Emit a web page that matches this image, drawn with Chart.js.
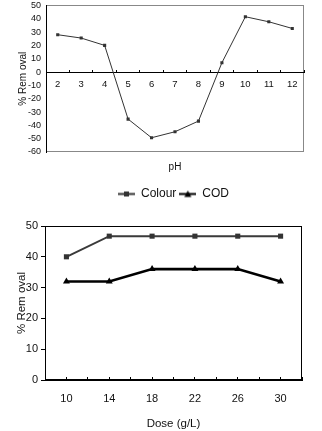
<!DOCTYPE html>
<html><head><meta charset="utf-8">
<script src="https://cdn.jsdelivr.net/npm/chart.js@4"></script>
<style>
html,body{margin:0;padding:0;background:#fff;}
#wrap{position:relative;width:322px;height:431px;overflow:hidden;background:#fff;}
canvas{position:absolute;left:0;}
</style></head><body>
<div id="wrap">
<canvas id="c1" width="322" height="175" style="top:0"></canvas>
<canvas id="c2" width="322" height="256" style="top:175px"></canvas>
</div>
<script>
// ---- data ----
const phLabels = ['2','3','4','5','6','7','8','9','10','11','12'];
const phRemoval = [28, 25.5, 20, -35.3, -49.3, -44.8, -36.8, 7, 41.5, 37.7, 32.7];
const doseValues = [10, 14, 18, 22, 26, 30];
const colourRemoval = [40, 46.7, 46.7, 46.7, 46.7, 46.7];
const codRemoval = [32, 32, 36, 36, 36, 32];
const seriesNames = ['Colour', 'COD'];
const phAxisTitle = 'pH';
const doseAxisTitle = 'Dose (g/L)';
const removalTitle = '% Rem oval';

const sans = "'Liberation Sans', Arial, sans-serif";
const narrow = "'Liberation Sans Narrow', 'Arial Narrow', 'Liberation Sans', sans-serif";
const nf = (size) => ({family: narrow, size: size});

const plotBorder = {
  id: 'plotBorder',
  beforeDraw(chart, args, opts) {
    const {ctx, chartArea: a} = chart;
    ctx.save();
    ctx.strokeStyle = opts.color || '#000';
    ctx.lineWidth = 1;
    const l = Math.round(a.left) + 0.5, t = Math.round(a.top) + 0.5;
    const r = Math.round(a.right) - 0.5, b = Math.round(a.bottom) - 0.5;
    ctx.strokeRect(l, t, r - l, b - t);
    ctx.restore();
  }
};

// ---- top chart (pH) ----
new Chart(document.getElementById('c1'), {
  type: 'line',
  data: {
    labels: phLabels,
    datasets: [{
      data: phRemoval,
      borderColor: '#333',
      borderWidth: 1,
      pointStyle: 'rect',
      pointRadius: 2.2,
      pointBackgroundColor: '#333',
      pointBorderWidth: 0,
      tension: 0
    }]
  },
  plugins: [plotBorder],
  options: {
    responsive: false, animation: false, devicePixelRatio: 1,
    layout: {padding: {left: 0, right: 18, top: 0, bottom: 0}},
    plugins: {legend: {display: false}, tooltip: {enabled: false}, plotBorder: {color: '#888'}},
    scales: {
      x: {
        type: 'category', position: {y: 0}, offset: true,
        grid: {drawOnChartArea: false, offset: true, tickLength: -3, color: '#000'},
        border: {color: '#000', width: 1},
        ticks: {padding: 10, font: {family: sans, size: 9.5}, color: '#111', maxRotation: 0, autoSkip: false}
      },
      xt: {
        type: 'category', position: 'bottom', offset: true,
        grid: {display: false}, border: {display: false}, ticks: {display: false},
        title: {display: true, text: phAxisTitle, font: {family: sans, size: 10}, color: '#111', padding: {top: 0, bottom: 2}},
        afterFit(s) { s.height = 23; }
      },
      y: {
        min: -60, max: 50,
        ticks: {stepSize: 10, autoSkip: false, font: {family: sans, size: 9}, color: '#111', padding: 0},
        grid: {drawOnChartArea: false, drawTicks: true, tickLength: 5, color: 'rgba(0,0,0,0)'},
        border: {color: '#000'},
        title: {display: true, text: removalTitle, font: {family: sans, size: 10}, color: '#111', padding: {top: 17, bottom: 0}},
        afterFit(s) { s.width = 46; }
      }
    }
  }
});

// ---- legend symbols ----
function legendSymbol(style) {
  const c = document.createElement('canvas');
  c.width = 17; c.height = 9;
  const g = c.getContext('2d');
  g.strokeStyle = style === 'rect' ? '#333' : '#000';
  g.fillStyle = g.strokeStyle;
  g.lineWidth = 2;
  g.beginPath(); g.moveTo(0, 4.5); g.lineTo(17, 4.5); g.stroke();
  if (style === 'rect') { g.fillRect(6, 2, 5, 5); }
  else { g.beginPath(); g.moveTo(8.5, 1); g.lineTo(12, 7.5); g.lineTo(5, 7.5); g.closePath(); g.fill(); }
  return c;
}
const symbols = [legendSymbol('rect'), legendSymbol('triangle')];

// ---- bottom chart (dose) ----
new Chart(document.getElementById('c2'), {
  type: 'line',
  data: {
    datasets: [{
      label: seriesNames[0],
      data: doseValues.map((d, i) => ({x: d, y: colourRemoval[i]})),
      borderColor: '#3a3a3a', backgroundColor: '#3a3a3a',
      borderWidth: 2, pointStyle: 'rect', pointRadius: 3.6,
      pointBackgroundColor: '#333', pointBorderWidth: 0, tension: 0
    }, {
      label: seriesNames[1],
      data: doseValues.map((d, i) => ({x: d, y: codRemoval[i]})),
      borderColor: '#000', backgroundColor: '#000',
      borderWidth: 2.6, pointStyle: 'triangle', pointRadius: 4,
      pointBackgroundColor: '#000', pointBorderWidth: 0, tension: 0
    }]
  },
  plugins: [plotBorder],
  options: {
    responsive: false, animation: false, devicePixelRatio: 1,
    layout: {padding: {left: 0, right: 20, top: 10, bottom: 0}},
    plugins: {
      tooltip: {enabled: false},
      plotBorder: {color: '#000'},
      legend: {
        display: true, position: 'top', fullSize: false,
        labels: {
          usePointStyle: true, pointStyleWidth: 17, padding: 3,
          font: nf(12), color: '#111',
          generateLabels(chart) {
            return chart.data.datasets.map((ds, i) => ({
              text: ds.label, pointStyle: symbols[i], fillStyle: ds.borderColor,
              strokeStyle: ds.borderColor, lineWidth: 0, hidden: false, datasetIndex: i, fontColor: '#111'
            }));
          }
        }
      }
    },
    scales: {
      x: {
        type: 'linear', position: 'bottom', min: 8, max: 32,
        grid: {drawOnChartArea: false, tickLength: -3, color: '#000'},
        border: {color: '#000'},
        ticks: {
          stepSize: 2, autoSkip: false, maxRotation: 0, padding: 15,
          font: nf(11), color: '#111',
          callback: v => doseValues.includes(v) ? String(v) : ''
        },
        title: {display: true, text: doseAxisTitle, font: nf(11.5), color: '#111', padding: {top: 0, bottom: 0}},
        afterFit(s) { s.height = 51; }
      },
      xtop: {
        type: 'linear', position: 'top', min: 8, max: 32,
        grid: {display: false}, border: {display: false}, ticks: {display: false},
        afterFit(s) { s.height = 16; }
      },
      y: {
        min: 0, max: 50,
        ticks: {stepSize: 10, font: nf(11), color: '#111', padding: 3},
        grid: {drawOnChartArea: false, tickLength: 4, color: '#000'},
        border: {color: '#000'},
        title: {display: true, text: removalTitle, font: nf(11.5), color: '#111', padding: {top: 15, bottom: 0}},
        afterFit(s) { s.width = 45; }
      }
    }
  }
});
</script>
</body></html>
